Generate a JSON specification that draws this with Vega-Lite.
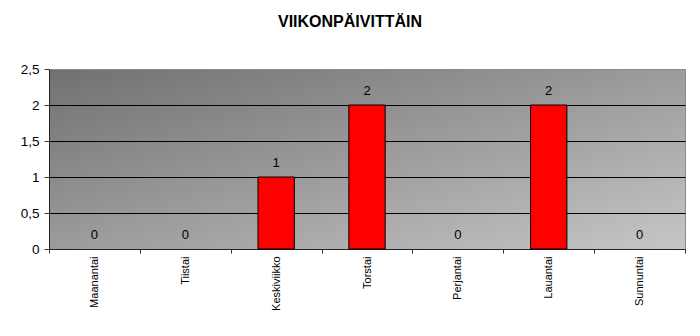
{
  "$schema": "https://vega.github.io/schema/vega-lite/v6.json",
  "autosize": {"type": "none"},
  "width": 636,
  "height": 180,
  "padding": {"left": 49, "top": 69, "right": 15, "bottom": 87},
  "background": "white",
  "title": {
    "text": "VIIKONPÄIVITTÄIN",
    "font": "Liberation Sans",
    "fontSize": 16,
    "fontWeight": "bold",
    "color": "black",
    "anchor": "middle",
    "dx": -17,
    "offset": 32
  },
  "data": {
    "values": [
      {"day": "Maanantai", "count": 0},
      {"day": "Tiistai", "count": 0},
      {"day": "Keskiviikko", "count": 1},
      {"day": "Torstai", "count": 2},
      {"day": "Perjantai", "count": 0},
      {"day": "Lauantai", "count": 2},
      {"day": "Sunnuntai", "count": 0}
    ]
  },
  "encoding": {
    "x": {
      "field": "day",
      "type": "nominal",
      "sort": null,
      "scale": {"paddingInner": 0, "paddingOuter": 0},
      "axis": {
        "title": null,
        "labelAngle": -90,
        "labelFont": "Liberation Sans",
        "labelFontSize": 11,
        "labelColor": "black",
        "labelPadding": 3,
        "tickBand": "extent",
        "tickSize": 4,
        "tickColor": "#333",
        "domainColor": "#222",
        "grid": false
      }
    },
    "y": {
      "field": "count",
      "type": "quantitative",
      "scale": {"domain": [0, 2.5], "nice": false},
      "axis": {
        "title": null,
        "values": [0, 0.5, 1, 1.5, 2, 2.5],
        "format": ",.1~f",
        "labelExpr": "replace(datum.label, '.', ',')",
        "labelFont": "Liberation Sans",
        "labelFontSize": 13.5,
        "labelColor": "black",
        "labelPadding": 5,
        "tickSize": 5,
        "tickColor": "#333",
        "domainColor": "#222",
        "grid": true,
        "gridColor": {"condition": {"test": "datum.value === 2.5 || datum.value === 0", "value": "#8a8a8a"}, "value": "black"},
        "gridWidth": 1,
        "gridOpacity": 1
      }
    }
  },
  "layer": [
    {
      "mark": {"type": "bar", "color": "#ff0000", "stroke": "black", "strokeWidth": 1, "width": {"band": 0.4}},
      "encoding": {
        "strokeOpacity": {"condition": {"test": "datum.count === 0", "value": 0}, "value": 1}
      }
    },
    {
      "mark": {"type": "text", "baseline": "bottom", "dy": -7, "font": "Liberation Sans", "fontSize": 13, "color": "black"},
      "encoding": {"text": {"field": "count", "type": "quantitative"}}
    }
  ],
  "config": {
    "view": {
      "stroke": "#8a8a8a",
      "strokeWidth": 1,
      "fill": {
        "gradient": "linear",
        "x1": 0, "y1": 0, "x2": 1, "y2": 1,
        "stops": [
          {"offset": 0, "color": "#717171"},
          {"offset": 1, "color": "#c6c6c6"}
        ]
      }
    }
  }
}
